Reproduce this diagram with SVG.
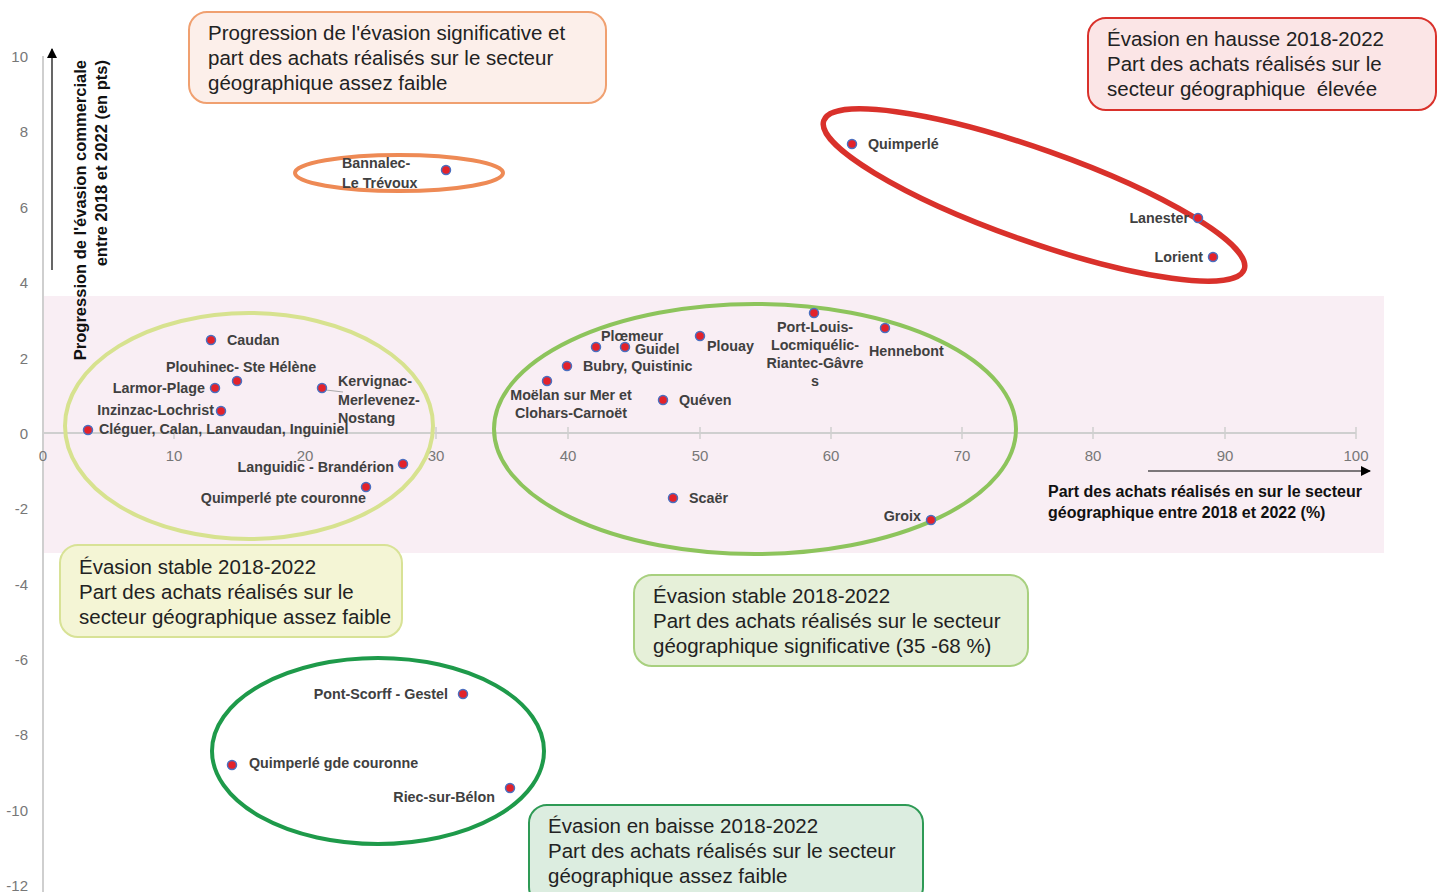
<svg xmlns="http://www.w3.org/2000/svg" width="1443" height="892" viewBox="0 0 1443 892">
<defs>
<style>
.tick{font-family:"Liberation Sans",Arial,sans-serif;font-size:15px;fill:#777}
.lbl{font-family:"Liberation Sans",Arial,sans-serif;font-size:14.3px;font-weight:bold;fill:#404040}
.ttl{font-family:"Liberation Sans",Arial,sans-serif;font-size:16px;font-weight:bold;fill:#111}
.ytl{font-family:"Liberation Sans",Arial,sans-serif;font-size:16.5px;font-weight:bold;fill:#111}
.leg{font-family:"Liberation Sans",Arial,sans-serif;font-size:20.5px;fill:#222}
.pt{fill:#e3222a;stroke:#4a6fc0;stroke-width:1.5}
.ell{fill:none}
.ax{stroke:#cfcfcf;stroke-width:2;fill:none}
</style>
<marker id="arr" viewBox="0 0 10 10" refX="9" refY="5" markerWidth="10" markerHeight="10" markerUnits="userSpaceOnUse" orient="auto">
<path d="M0,0 L10,5 L0,10 z" fill="#000"/>
</marker>
</defs>
<rect width="1443" height="892" fill="#fff"/>
<rect id="band" x="43" y="296" width="1341" height="257" fill="#f9eef4"/>
<g id="axes">
<line class="ax" x1="43" y1="56" x2="43" y2="892"/>
<line class="ax" x1="43" y1="433" x2="1356" y2="433"/>
<g stroke="#cfcfcf" stroke-width="1.5">
<line x1="174" y1="427" x2="174" y2="439"/><line x1="305" y1="427" x2="305" y2="439"/><line x1="436" y1="427" x2="436" y2="439"/><line x1="568" y1="427" x2="568" y2="439"/><line x1="700" y1="427" x2="700" y2="439"/><line x1="831" y1="427" x2="831" y2="439"/><line x1="962" y1="427" x2="962" y2="439"/><line x1="1093" y1="427" x2="1093" y2="439"/><line x1="1225" y1="427" x2="1225" y2="439"/><line x1="1356" y1="427" x2="1356" y2="439"/>
</g>
<g class="tick" text-anchor="middle">
<text x="43" y="461">0</text><text x="174" y="461">10</text><text x="305" y="461">20</text><text x="436" y="461">30</text><text x="568" y="461">40</text><text x="700" y="461">50</text><text x="831" y="461">60</text><text x="962" y="461">70</text><text x="1093" y="461">80</text><text x="1225" y="461">90</text><text x="1356" y="461">100</text>
</g>
<g class="tick" text-anchor="end">
<text x="28" y="62">10</text><text x="28" y="137">8</text><text x="28" y="213">6</text><text x="28" y="288">4</text><text x="28" y="364">2</text><text x="28" y="439">0</text><text x="28" y="514">-2</text><text x="28" y="590">-4</text><text x="28" y="665">-6</text><text x="28" y="740">-8</text><text x="28" y="816">-10</text><text x="28" y="891">-12</text>
</g>
<line x1="52" y1="270" x2="52" y2="49" stroke="#000" stroke-width="1.2" marker-end="url(#arr)"/>
<line x1="1148" y1="471" x2="1370" y2="471" stroke="#000" stroke-width="1.2" marker-end="url(#arr)"/>
<text class="ytl" transform="translate(86,60) rotate(-90)" text-anchor="end">Progression de l'évasion commerciale</text>
<text class="ytl" transform="translate(107,60) rotate(-90)" text-anchor="end">entre 2018 et 2022 (en pts)</text>
<text class="ttl" x="1048" y="497">Part des achats réalisés en sur le secteur</text>
<text class="ttl" x="1048" y="518">géographique entre 2018 et 2022 (%)</text>
</g>
<g id="groups">
<ellipse id="g-orange" class="ell" cx="399" cy="173" rx="104" ry="18" stroke="#ee8a55" stroke-width="4"/>
<ellipse id="g-red" class="ell" cx="1034" cy="195" rx="223" ry="46" transform="rotate(19.5 1034 195)" stroke="#d9312b" stroke-width="5.5"/>
<ellipse id="g-lightgreen" class="ell" cx="249" cy="426" rx="184" ry="113" stroke="#d7e28f" stroke-width="4"/>
<ellipse id="g-green" class="ell" cx="755" cy="429" rx="261" ry="125" stroke="#8dc45c" stroke-width="4"/>
<ellipse id="g-darkgreen" class="ell" cx="378" cy="751" rx="166" ry="93" stroke="#1e9a4a" stroke-width="4"/>
</g>
<g id="connectors">
<line x1="326" y1="390" x2="343" y2="392" stroke="#aaa" stroke-width="1.2"/>
</g>
<g id="n-quimperle"><circle class="pt" cx="852" cy="144" r="4.5"/><text class="lbl" x="868" y="149">Quimperlé</text></g>
<g id="n-lanester"><circle class="pt" cx="1198" cy="218" r="4.5"/><text class="lbl" x="1189" y="223" text-anchor="end">Lanester</text></g>
<g id="n-lorient"><circle class="pt" cx="1213" cy="257" r="4.5"/><text class="lbl" x="1203" y="262" text-anchor="end">Lorient</text></g>
<g id="n-bannalec"><circle class="pt" cx="446" cy="170" r="4.5"/><text class="lbl" x="342" y="168">Bannalec-</text><text class="lbl" x="342" y="188">Le Trévoux</text></g>
<g id="n-caudan"><circle class="pt" cx="211" cy="340" r="4.5"/><text class="lbl" x="227" y="345">Caudan</text></g>
<g id="n-plouhinec"><circle class="pt" cx="237" cy="381" r="4.5"/><text class="lbl" x="166" y="372">Plouhinec- Ste Hélène</text></g>
<g id="n-larmor"><circle class="pt" cx="215" cy="388" r="4.5"/><text class="lbl" x="205" y="393" text-anchor="end">Larmor-Plage</text></g>
<g id="n-inzinzac"><circle class="pt" cx="221" cy="411" r="4.5"/><text class="lbl" x="214" y="415" text-anchor="end">Inzinzac-Lochrist</text></g>
<g id="n-cleguer"><circle class="pt" cx="88" cy="430" r="4.5"/><text class="lbl" x="99" y="434">Cléguer, Calan, Lanvaudan, Inguiniel</text></g>
<g id="n-kervignac"><circle class="pt" cx="322" cy="388" r="4.5"/><text class="lbl" x="338" y="386">Kervignac-</text><text class="lbl" x="338" y="405">Merlevenez-</text><text class="lbl" x="338" y="423">Nostang</text></g>
<g id="n-languidic"><circle class="pt" cx="403" cy="464" r="4.5"/><text class="lbl" x="394" y="472" text-anchor="end">Languidic - Brandérion</text></g>
<g id="n-qpte"><circle class="pt" cx="366" cy="487" r="4.5"/><text class="lbl" x="366" y="503" text-anchor="end">Quimperlé pte couronne</text></g>
<g id="n-ploemeur"><circle class="pt" cx="596" cy="347" r="4.5"/><text class="lbl" x="601" y="341">Plœmeur</text></g>
<g id="n-guidel"><circle class="pt" cx="625" cy="347" r="4.5"/><text class="lbl" x="635" y="354">Guidel</text></g>
<g id="n-bubry"><circle class="pt" cx="567" cy="366" r="4.5"/><text class="lbl" x="583" y="371">Bubry, Quistinic</text></g>
<g id="n-moelan"><circle class="pt" cx="547" cy="381" r="4.5"/><text class="lbl" x="571" y="400" text-anchor="middle">Moëlan sur Mer et</text><text class="lbl" x="571" y="418" text-anchor="middle">Clohars-Carnoët</text></g>
<g id="n-queven"><circle class="pt" cx="663" cy="400" r="4.5"/><text class="lbl" x="679" y="405">Quéven</text></g>
<g id="n-plouay"><circle class="pt" cx="700" cy="336" r="4.5"/><text class="lbl" x="707" y="351">Plouay</text></g>
<g id="n-portlouis"><circle class="pt" cx="814" cy="313" r="4.5"/><text class="lbl" x="815" y="332" text-anchor="middle">Port-Louis-</text><text class="lbl" x="815" y="350" text-anchor="middle">Locmiquélic-</text><text class="lbl" x="815" y="368" text-anchor="middle">Riantec-Gâvre</text><text class="lbl" x="815" y="386" text-anchor="middle">s</text></g>
<g id="n-hennebont"><circle class="pt" cx="885" cy="328" r="4.5"/><text class="lbl" x="869" y="356">Hennebont</text></g>
<g id="n-scaer"><circle class="pt" cx="673" cy="498" r="4.5"/><text class="lbl" x="689" y="503">Scaër</text></g>
<g id="n-groix"><circle class="pt" cx="931" cy="520" r="4.5"/><text class="lbl" x="921" y="521" text-anchor="end">Groix</text></g>
<g id="n-pontscorff"><circle class="pt" cx="463" cy="694" r="4.5"/><text class="lbl" x="448" y="699" text-anchor="end">Pont-Scorff - Gestel</text></g>
<g id="n-qgde"><circle class="pt" cx="232" cy="765" r="4.5"/><text class="lbl" x="249" y="768">Quimperlé gde couronne</text></g>
<g id="n-riec"><circle class="pt" cx="510" cy="788" r="4.5"/><text class="lbl" x="495" y="802" text-anchor="end">Riec-sur-Bélon</text></g>
<g id="leg-orange"><rect x="189" y="12" width="417" height="91" rx="18" fill="#fcefea" stroke="#f0a070" stroke-width="2"/><text class="leg" x="208" y="40">Progression de l'évasion significative et</text><text class="leg" x="208" y="65">part des achats réalisés sur le secteur</text><text class="leg" x="208" y="90">géographique assez faible</text></g>
<g id="leg-red"><rect x="1088" y="18" width="348" height="92" rx="18" fill="#fbe5e6" stroke="#d9312b" stroke-width="2"/><text class="leg" x="1107" y="46">Évasion en hausse 2018-2022</text><text class="leg" x="1107" y="71">Part des achats réalisés sur le</text><text class="leg" x="1107" y="96" xml:space="preserve">secteur géographique  élevée</text></g>
<g id="leg-lightgreen"><rect x="60" y="545" width="342" height="92" rx="18" fill="#f4f5d5" stroke="#d8e296" stroke-width="2"/><text class="leg" x="79" y="574">Évasion stable 2018-2022</text><text class="leg" x="79" y="599">Part des achats réalisés sur le</text><text class="leg" x="79" y="624">secteur géographique assez faible</text></g>
<g id="leg-green"><rect x="634" y="575" width="394" height="91" rx="18" fill="#e6f0d9" stroke="#a8d07f" stroke-width="2"/><text class="leg" x="653" y="603">Évasion stable 2018-2022</text><text class="leg" x="653" y="628">Part des achats réalisés sur le secteur</text><text class="leg" x="653" y="653">géographique significative (35 -68 %)</text></g>
<g id="leg-darkgreen"><rect x="529" y="805" width="394" height="100" rx="18" fill="#dcede0" stroke="#2e9a55" stroke-width="2"/><text class="leg" x="548" y="833">Évasion en baisse 2018-2022</text><text class="leg" x="548" y="858">Part des achats réalisés sur le secteur</text><text class="leg" x="548" y="883">géographique assez faible</text></g>
</svg>
